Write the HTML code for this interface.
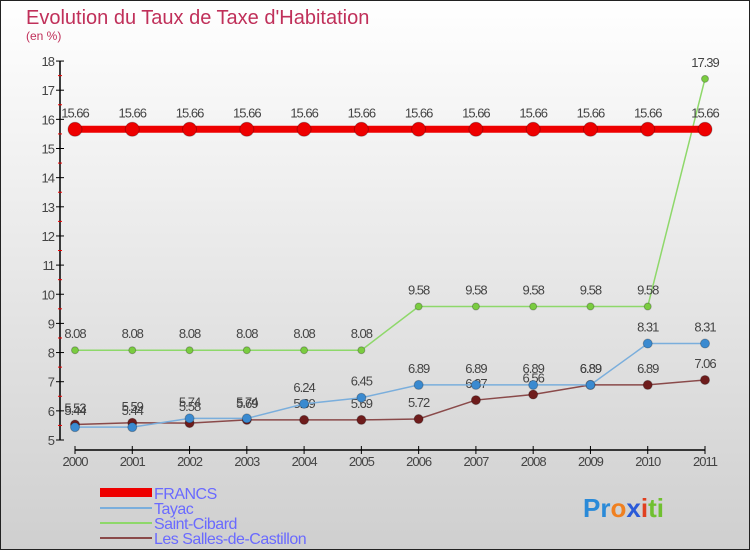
<!DOCTYPE html>
<html><head><meta charset="utf-8"><style>
body{margin:0;width:750px;height:550px;overflow:hidden;font-family:"Liberation Sans",sans-serif}
svg{display:block}
</style></head><body>
<svg id="chart" width="750" height="550" xmlns="http://www.w3.org/2000/svg">
<defs><linearGradient id="bg" x1="0" y1="0" x2="0" y2="1"><stop offset="0" stop-color="#ffffff"/><stop offset="1" stop-color="#cfcfcf"/></linearGradient></defs>
<rect x="0.5" y="0.5" width="749" height="549" fill="url(#bg)" stroke="#222"/>
<text x="26" y="24" font-size="20" fill="#c0305a">Evolution du Taux de Taxe d'Habitation</text>
<text x="26" y="40" font-size="12" fill="#c0305a">(en %)</text>
<g id="axes"></g><g id="series"></g>
<g>
<rect x="100" y="488" width="52" height="9" fill="#e00"/>
<text x="154" y="499" font-size="16" fill="#6a6aff" letter-spacing="-0.5">FRANCS</text>
<line x1="100" y1="508" x2="152" y2="508" stroke="#7aaedc" stroke-width="2"/>
<text x="154" y="514" font-size="16" fill="#6a6aff" letter-spacing="-0.5">Tayac</text>
<line x1="100" y1="523" x2="152" y2="523" stroke="#8ed86a" stroke-width="2"/>
<text x="154" y="529" font-size="16" fill="#6a6aff" letter-spacing="-0.5">Saint-Cibard</text>
<line x1="100" y1="538" x2="152" y2="538" stroke="#8a4a4a" stroke-width="2"/>
<text x="154" y="544" font-size="16" fill="#6a6aff" letter-spacing="-0.5">Les Salles-de-Castillon</text>
</g>
<text x="583" y="517" font-size="26" font-weight="bold"><tspan fill="#2a8ad8">Pr</tspan><tspan fill="#f08020">o</tspan><tspan fill="#2a5ad8">x</tspan><tspan fill="#e04020">i</tspan><tspan fill="#70c030">ti</tspan></text>
</svg>
<script>
const years=[2000,2001,2002,2003,2004,2005,2006,2007,2008,2009,2010,2011];
const yTicks=[5,6,7,8,9,10,11,12,13,14,15,16,17,18];
const francs=[15.66,15.66,15.66,15.66,15.66,15.66,15.66,15.66,15.66,15.66,15.66,15.66];
const tayac=[5.44,5.44,5.74,5.74,6.24,6.45,6.89,6.89,6.89,6.89,8.31,8.31];
const saintCibard=[8.08,8.08,8.08,8.08,8.08,8.08,9.58,9.58,9.58,9.58,9.58,17.39];
const salles=[5.53,5.59,5.58,5.69,5.69,5.69,5.72,6.37,6.56,6.89,6.89,7.06];
const NS="http://www.w3.org/2000/svg";
const x=i=>75+i*(630/11);
const y=v=>440-(v-5)*29.15;
function mk(tag,at,parent,txt){const e=document.createElementNS(NS,tag);for(const k in at)e.setAttribute(k,at[k]);if(txt!==undefined)e.textContent=txt;parent.appendChild(e);return e;}
const ax=document.getElementById('axes');
let e=mk('line',{x1:60,y1:y(18),x2:60,y2:440,stroke:'#000','stroke-width':1.5},ax);


e=mk('line',{x1:75,y1:450,x2:705,y2:450,stroke:'#000','stroke-width':1.5},ax);


yTicks.forEach(t=>{
  mk('line',{x1:56,y1:y(t),x2:64,y2:y(t),stroke:'#000'},ax);
  if(t<18) mk('line',{x1:58,y1:y(t+0.5),x2:62,y2:y(t+0.5),stroke:'#e00'},ax);
  e=mk('text',{x:54,y:y(t)+5,'font-size':13,fill:'#444','text-anchor':'end','letter-spacing':'-1'},ax,t);
  
  
});
years.forEach((yr,i)=>{
  mk('line',{x1:x(i),y1:446,x2:x(i),y2:454,stroke:'#000'},ax);
  e=mk('text',{x:x(i),y:466,'font-size':13,fill:'#444','text-anchor':'middle','letter-spacing':'-1'},ax,yr);
  
  
});
const sg=document.getElementById('series');
function series(data,color,lw,r,name,dot){
  const g=mk('g',{},sg);
  
  
  mk('polyline',{points:data.map((v,i)=>x(i)+','+y(v)).join(' '),fill:'none',stroke:color,'stroke-width':lw},g);
  data.forEach((v,i)=>{
    const c=mk('circle',{cx:x(i),cy:y(v),r:r,fill:dot,stroke:'rgba(0,0,0,0.25)'},g);
    
    
    const t=mk('text',{x:x(i),y:y(v)-12,'font-size':13,fill:'#444','text-anchor':'middle','letter-spacing':'-1'},g,String(v));
    
    
  });
}
series(salles,'#8a4a4a',1.5,4.5,'les-salles','#6e1c1c');
series(tayac,'#7aaedc',1.5,4.5,'tayac','#3a8ad0');
series(saintCibard,'#8ed86a',1.5,3.5,'saint-cibard','#7acc40');
series(francs,'#ee0000',7,7,'francs','#ee0000');
</script>
</body></html>
